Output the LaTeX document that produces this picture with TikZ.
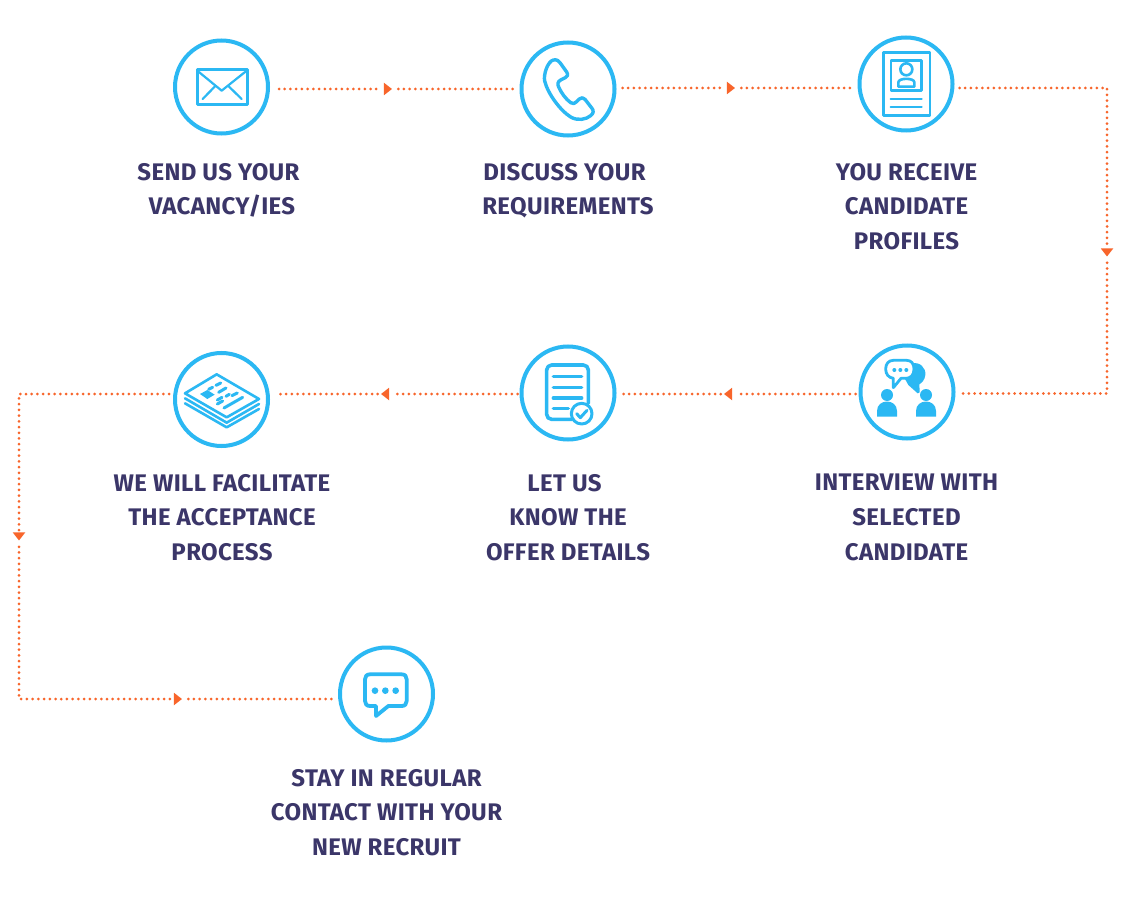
\documentclass[tikz,border=0pt]{standalone}
\usepackage{fontspec}
\setmainfont[LetterSpace=1.5,BoldFont={Fira Sans Bold}]{Fira Sans}
\usetikzlibrary{shapes.geometric}
\definecolor{iconblue}{HTML}{2BB8F3}
\definecolor{flowor}{HTML}{F8652B}
\definecolor{labelink}{HTML}{3B3669}
\tikzset{
  x=1pt,y=-1pt,
  ring/.style={circle,draw=iconblue,line width=4pt,minimum size=93pt,inner sep=0pt,fill=white},
  flow/.style={draw=flowor,line width=3pt,line cap=round,dash pattern=on 0pt off 5.72pt},
  tip/.style={isosceles triangle,isosceles triangle apex angle=80,isosceles triangle stretches,minimum height=8pt,minimum width=12.5pt,inner sep=0pt,fill=flowor},
  tipR/.style={tip,shape border rotate=0},
  tipL/.style={tip,shape border rotate=180},
  tipD/.style={tip,shape border rotate=-90},
  steplabel/.style={text=labelink,font=\fontsize{24}{34.7}\bfseries\selectfont,align=center,inner sep=0pt,anchor=north},
  ln/.style={draw=iconblue,line width=#1,line cap=round,line join=round},
  ln/.default=2pt,
  zoomed/.style={shift={#1},scale=1/3}
}
\begin{document}
\begin{tikzpicture}
\useasboundingbox (0,0) rectangle (1123,901);
\fill[white] (0,0) rectangle (1123,901);
% step circles
\node[ring] (c1) at (221.5,87) {};
\node[ring] (c2) at (568,89) {};
\node[ring] (c3) at (906,84) {};
\node[ring] (c4) at (907,392) {};
\node[ring] (c5) at (568,393) {};
\node[ring] (c6) at (221.5,399.5) {};
\node[ring] (c7) at (386.5,694) {};
% arrow tips
\node[tipR] (a1) at (387,89) {};
\node[tipR] (a2) at (730,88) {};
\node[tipD] (a3) at (1107,251.5) {};
\node[tipL] (a4) at (729,394) {};
\node[tipL] (a5) at (386,394) {};
\node[tipD] (a6) at (19,535.5) {};
\node[tipR] (a7) at (177,699) {};
\coordinate (k1) at (1107,88);
\coordinate (k2) at (1107,393.5);
\coordinate (k3) at (19,394);
\coordinate (k4) at (19,699);
% connectors
\draw[flow,shorten <=9pt,shorten >=2pt] (c1.east |- a1) -- (a1);
\draw[flow,shorten <=6pt,shorten >=6pt] (a1) -- (c2.west |- a1);
\draw[flow,shorten <=6pt,shorten >=2pt] (c2.east |- a2) -- (a2);
\draw[flow,shorten <=6pt,shorten >=2pt] (a2) -- (c3.west |- a2);
\draw[flow,shorten <=5pt,shorten >=2pt] (c3.east |- k1) -- (k1) -- (a3);
\draw[flow,shorten <=6pt,shorten >=3pt] (a3) -- (k2) -- (c4.east |- k2);
\draw[flow,shorten <=3pt,shorten >=6pt] (c4.west |- a4) -- (a4);
\draw[flow,shorten <=3pt,shorten >=3pt] (a4) -- (c5.east |- a4);
\draw[flow,shorten <=2pt,shorten >=6pt] (c5.west |- a5) -- (a5);
\draw[flow,shorten <=3pt,shorten >=9pt] (a5) -- (c6.east |- a5);
\draw[flow,shorten <=4pt,shorten >=2pt] (c6.west |- k3) -- (k3) -- (a6);
\draw[flow,shorten <=6pt,shorten >=2pt] (a6) -- (k4) -- (a7);
\draw[flow,shorten <=6pt,shorten >=5pt] (a7) -- (c7.west |- a7);
% labels
\node[steplabel] (t1) at (222,163) {SEND US YOUR\hspace*{7pt}\\VACANCY/IES};
\node[steplabel] (t2) at (568,163) {DISCUSS YOUR\hspace*{7pt}\\REQUIREMENTS};
\node[steplabel] (t3) at (906.5,163) {YOU RECEIVE\\CANDIDATE\\PROFILES};
\node[steplabel] (t4) at (906.5,474) {INTERVIEW WITH\\SELECTED\hspace*{7pt}\\CANDIDATE};
\node[steplabel] (t5) at (568,474) {LET US\hspace*{7pt}\\KNOW THE\hspace*{7pt}\\OFFER DETAILS};
\node[steplabel] (t6) at (222,474) {WE WILL FACILITATE\\THE ACCEPTANCE\\PROCESS};
\node[steplabel] (t7) at (386.5,769) {STAY IN REGULAR\\CONTACT WITH YOUR\\NEW RECRUIT};
% envelope icon
\begin{scope}[zoomed={(130,20)}]
\draw[ln=3pt] (201,150) rectangle (351,254);
\draw[ln=2.2pt] (203,153) -- (275,212) -- (349,153);
\draw[ln=2.2pt] (218,237) -- (256,198);
\draw[ln=2.2pt] (335,237) -- (295,198);
\end{scope}
% phone icon
\begin{scope}[zoomed={(500,25)}]
\draw[ln=3.4pt] (160,105) .. controls (170,103) and (176,107) .. (180,113)
 -- (200,141) .. controls (205,150) and (203,154) .. (196,158)
 -- (182,165) .. controls (173,170) and (172,177) .. (176,186)
 .. controls (184,204) and (197,222) .. (212,233)
 .. controls (219,238) and (224,236) .. (230,230)
 -- (238,222) .. controls (244,217) and (250,217) .. (255,223)
 -- (276,250) .. controls (282,258) and (280,266) .. (272,272)
 .. controls (258,284) and (232,288) .. (212,276)
 .. controls (180,256) and (143,205) .. (134,168)
 .. controls (130,150) and (142,110) .. (160,105) -- cycle;
\end{scope}
% profile icon
\begin{scope}[zoomed={(840,25)}]
\draw[ln=2.4pt] (130,82) rectangle (270,272);
\draw[ln=2.6pt] (153,106) rectangle (245,197);
\draw[ln=2.6pt] (199,133) circle (18);
\draw[ln=2.6pt] (175,185) -- (175,172) .. controls (175,158) and (223,158) .. (223,172) -- (223,185) -- cycle;
\draw[ln=2.2pt] (152,221) -- (245,221);
\draw[ln=2.2pt] (152,246) -- (245,246);
\end{scope}
% interview icon
\begin{scope}[zoomed={(840,335)}]
\fill[iconblue] (215,85) .. controls (240,80) and (258,98) .. (256,120)
 .. controls (254,135) and (246,143) .. (238,148) -- (239,172) -- (233,175) -- (205,150) -- (195,132) -- cycle;
\draw[ln=2.8pt,fill=white] (160,76) -- (200,76) .. controls (214,76) and (222,86) .. (222,102)
 .. controls (222,120) and (212,130) .. (198,130) -- (183,130) -- (160,158) -- (160,130)
 .. controls (146,128) and (137,118) .. (137,102) .. controls (137,86) and (146,76) .. (160,76) -- cycle;
\foreach \zx in {163,181,199} \fill[iconblue] (\zx,105) circle (6);
\fill[iconblue] (141,180) circle (18);
\fill[iconblue] (258,180) circle (18);
\fill[iconblue] (111,245) -- (111,228) .. controls (111,190) and (171,190) .. (171,228) -- (171,245) -- cycle;
\fill[iconblue] (228,245) -- (228,228) .. controls (228,190) and (288,190) .. (288,228) -- (288,245) -- cycle;
\end{scope}
% offer document icon
\begin{scope}[zoomed={(505,335)}]
\draw[ln=3.6pt,rounded corners=5pt] (200,253) -- (125,253) -- (125,90) -- (250,90) -- (250,205);
\foreach \zy in {125,157,189} \draw[ln=3.4pt] (145,\zy) -- (230,\zy);
\draw[ln=3.4pt] (145,220) -- (190,220);
\draw[ln=3pt,fill=white] (230,236) circle (31);
\draw[ln=3pt] (215,236) -- (226,248) -- (246,226);
\end{scope}
% paper stack icon
\begin{scope}[zoomed={(160,340)}]
\draw[ln=2.6pt] (170,103) -- (297,177) -- (200,232) -- (75,160) -- cycle;
\draw[ln=2.6pt] (75,175) -- (200,248) -- (297,192);
\draw[ln=2.6pt] (75,190) -- (200,262) -- (297,207);
\fill[iconblue] (120,162) -- (142,150) -- (164,164) -- (142,177) -- cycle;
\draw[ln=3pt] (168,136) -- (182,129);
\draw[ln=3pt] (146,148) -- (158,142);
\draw[ln=3pt] (176,157) -- (198,144);
\draw[ln=3pt] (198,169) -- (208,163);
\draw[ln=3pt] (216,167) -- (232,159);
\draw[ln=3pt] (172,192) -- (188,183);
\draw[ln=3pt] (192,204) -- (248,172);
\draw[ln=3pt] (172,180) -- (186,172);
\end{scope}
% chat icon
\begin{scope}[zoomed={(325,635)}]
\draw[ln=3.8pt] (135,118) -- (230,118) .. controls (240,118) and (245,124) .. (245,133)
 -- (245,198) .. controls (245,207) and (240,213) .. (230,213) -- (190,213) -- (153,243) -- (153,213) -- (135,213)
 .. controls (125,213) and (120,207) .. (120,198) -- (120,133) .. controls (120,124) and (125,118) .. (135,118) -- cycle;
\foreach \zx in {150,181,212} \fill[iconblue] (\zx,167) circle (10);
\end{scope}
\end{tikzpicture}
\end{document}
